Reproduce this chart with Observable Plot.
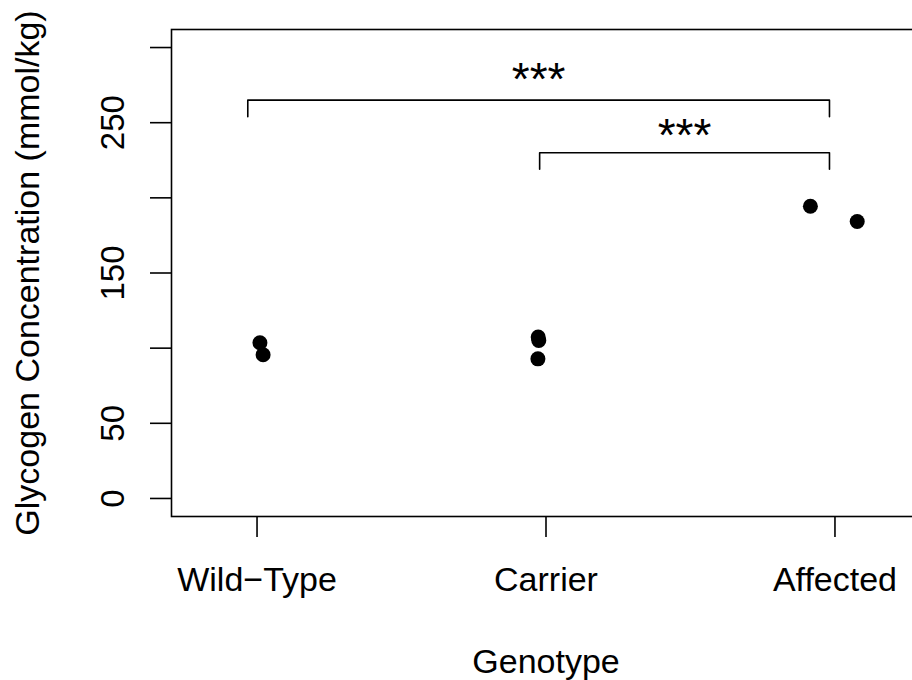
<!DOCTYPE html>
<html><head><meta charset="utf-8">
<script src="https://cdn.jsdelivr.net/npm/d3@7"></script>
<script src="https://cdn.jsdelivr.net/npm/@observablehq/plot@0.6"></script>
<style>body{margin:0;background:#fff;} svg{overflow:hidden;display:block}</style>
</head><body><div id="chart"></div>
<script>
// Categories
const genotypes = ["Wild\u2212Type", "Carrier", "Affected"];
const genotypePos = [1, 2, 3];
// Points (jittered x position, glycogen value)
const pointX = [1.010, 1.021, 1.973, 1.975, 1.972, 2.915, 3.077];
const pointY = [103.6, 95.6, 107.4, 105.1, 92.9, 194.4, 184.3];
// Y axis ticks and labels
const yTicks = [0, 50, 100, 150, 200, 250, 300];
const yLabels = [0, 50, 150, 250];
// Significance brackets
const bracketX1 = [0.968, 1.978];
const bracketX2 = [2.981, 2.981];
const bracketY = [265, 230];
const bracketLeg = [254, 219];
const bracketLabel = ["***", "***"];
const bracketLabelY = [278, 241];
const xTitle = "Genotype";
const yTitle = "Glycogen Concentration (mmol/kg)";

const font = "'Liberation Sans', Arial, Helvetica, sans-serif";
const points = pointX.map((x, i) => ({x, y: pointY[i]}));
const bracketPath = [];
bracketX1.forEach((x1, i) => {
  bracketPath.push(
    {b: i, x: x1, y: bracketLeg[i]},
    {b: i, x: x1, y: bracketY[i]},
    {b: i, x: bracketX2[i], y: bracketY[i]},
    {b: i, x: bracketX2[i], y: bracketLeg[i]}
  );
});
const bracketText = bracketLabel.map((t, i) => ({t, x: (bracketX1[i] + bracketX2[i]) / 2, y: bracketLabelY[i]}));

const chart = Plot.plot({
  width: 912, height: 680,
  marginLeft: 171, marginTop: 29, marginBottom: 164, marginRight: -8,
  x: {domain: [0.704, 3.296]},
  y: {domain: [-12, 312]},
  style: {fontFamily: font, background: "white", color: "black"},
  marks: [
    Plot.frame({stroke: "black", strokeWidth: 1.6}),
    Plot.axisY(yTicks, {tickSize: 21, tickFormat: () => "", label: null, strokeWidth: 1.6}),
    Plot.axisX(genotypePos, {tickSize: 21, tickFormat: () => "", label: null, strokeWidth: 1.6}),
    Plot.text(yLabels, {y: d => d, text: d => String(d), frameAnchor: "left", dx: -48, rotate: -90,
      lineAnchor: "bottom", textAnchor: "middle", fontSize: 33, fill: "black"}),
    Plot.text(genotypes, {x: (d, i) => genotypePos[i], text: d => d, frameAnchor: "bottom", dy: 74,
      lineAnchor: "bottom", textAnchor: "middle", fontSize: 34, fill: "black"}),
    Plot.text([xTitle], {text: d => d, frameAnchor: "bottom", dy: 156, lineAnchor: "bottom", textAnchor: "middle", fontSize: 34, fill: "black"}),
    Plot.text([yTitle], {text: d => d, frameAnchor: "left", dx: -133, rotate: -90, lineAnchor: "bottom", textAnchor: "middle", fontSize: 34, fill: "black"}),
    Plot.line(bracketPath, {x: "x", y: "y", z: "b", stroke: "black", strokeWidth: 1.6}),
    Plot.text(bracketText, {x: "x", y: "y", text: "t", fontSize: 46, lineAnchor: "middle", textAnchor: "middle", fill: "black"}),
    Plot.dot(points, {x: "x", y: "y", r: 7.5, fill: "black", stroke: "none"})
  ]
});
document.getElementById("chart").appendChild(chart);
</script>
</body></html>
